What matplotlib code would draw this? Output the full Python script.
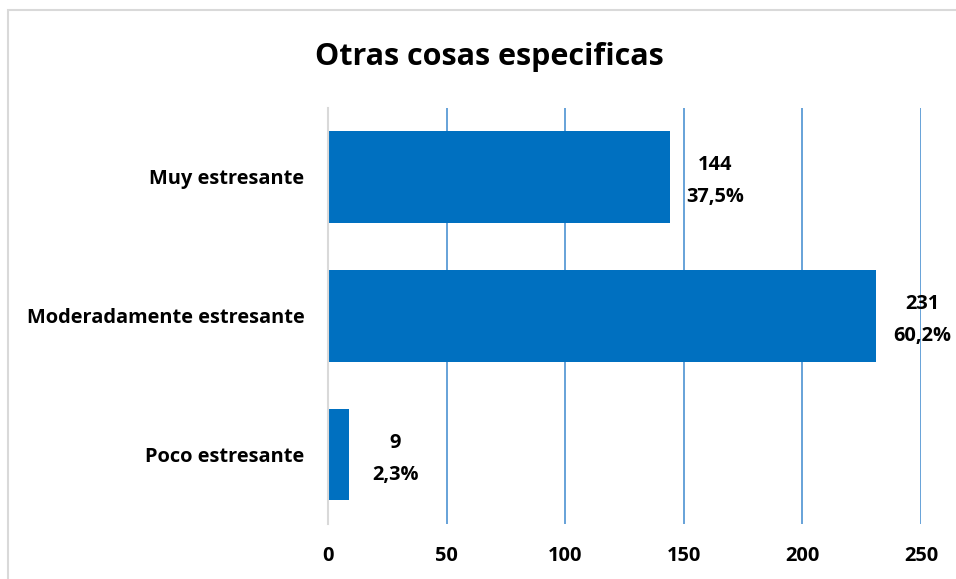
import matplotlib
matplotlib.use("Agg")
import matplotlib.pyplot as plt
from matplotlib.patches import Rectangle

categories = ["Poco estresante", "Moderadamente estresante", "Muy estresante"]
values = [9, 231, 144]
percents = ["2,3%", "60,2%", "37,5%"]
xticks = [0, 50, 100, 150, 200, 250]

plt.rcParams['font.family'] = ['Open Sans', 'DejaVu Sans']

W, H = 956, 579
fig = plt.figure(figsize=(W/100, H/100), dpi=100)
ax = fig.add_axes([328/W, 1-524/H, (921-328)/W, (524-107.5)/H])

ypos = list(range(len(categories)))
ax.barh(ypos, values, height=0.66, color="#0070C0", zorder=3)
ax.set_xlim(0, 250)
ax.set_ylim(-0.5, 2.5)
ax.set_yticks(ypos)
ax.set_yticklabels(categories, fontsize=14.4, fontweight='bold')
ax.set_xticks(xticks)
ax.set_xticklabels([str(t) for t in xticks], fontsize=14.4, fontweight='bold')
ax.tick_params(axis='both', length=0)
ax.tick_params(axis='y', pad=17)
ax.tick_params(axis='x', pad=16)
ax.grid(axis='x', color="#5B9BD5", linewidth=1.3, zorder=1)
for s in ['top', 'right', 'bottom']:
    ax.spines[s].set_visible(False)
ax.spines['left'].set_color("#D9D9D9")
ax.spines['left'].set_linewidth(1.5)
ax.spines['left'].set_zorder(4)

for y, v, p in zip(ypos, values, percents):
    ax.annotate(f"{v}\n{p}", xy=(v, y), xytext=(46, -4), textcoords='offset pixels',
                ha='center', va='center', fontsize=14.4, fontweight='bold',
                linespacing=1.8, zorder=5)

fig.text(489/W, 1-57/H, "Otras cosas especificas", ha='center', va='center',
         fontsize=22, fontweight='bold')

fig.patches.append(Rectangle((8/W, -0.01), 1.0, 1-10/H + 0.01, transform=fig.transFigure,
                             fill=False, edgecolor="#D9D9D9", linewidth=1.5))

fig.savefig("out.png", dpi=100)
